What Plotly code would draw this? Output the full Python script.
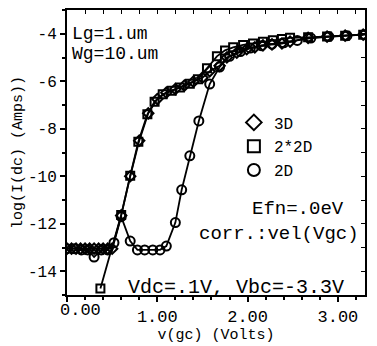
import plotly.graph_objects as go

# ---- data ----
x_3d = [0.00, 0.05, 0.10, 0.15, 0.20, 0.25, 0.30, 0.35, 0.40, 0.45, 0.50, 0.60, 0.70, 0.80, 0.90,
        1.00, 1.10, 1.20, 1.30, 1.40, 1.50, 1.58, 1.69, 1.77, 1.88, 1.99, 2.08, 2.17, 2.27, 2.38,
        2.47, 2.67, 2.88, 3.08, 3.28]
y_3d = [-13.05, -13.05, -13.05, -13.05, -13.05, -13.05, -13.05, -13.05, -13.05, -13.05, -13.05,
        -11.65, -10.00, -8.50, -7.35, -6.75, -6.48, -6.33, -6.18, -6.02, -5.85, -5.58, -5.35,
        -5.00, -4.80, -4.65, -4.57, -4.49, -4.45, -4.41, -4.33, -4.17, -4.12, -4.08, -4.04]

x_22d = [0.37, 0.60, 0.70, 0.79, 0.89, 0.97, 1.06, 1.16, 1.25, 1.36, 1.45, 1.55, 1.66, 1.75,
         1.84, 1.95, 2.06, 2.17, 2.28, 2.38, 2.47, 2.67, 2.88, 3.08, 3.28]
y_22d = [-14.73, -11.63, -9.98, -8.55, -7.39, -6.86, -6.55, -6.40, -6.26, -6.10, -5.92, -5.45,
         -4.95, -4.70, -4.57, -4.47, -4.41, -4.34, -4.27, -4.22, -4.17, -4.15, -4.12, -4.08, -4.04]

x_2d = [0.00, 0.08, 0.16, 0.23, 0.30, 0.38, 0.45, 0.52, 0.60, 0.70, 0.78, 0.86, 0.95, 1.03,
        1.10, 1.20, 1.27, 1.36, 1.46, 1.58, 1.69, 1.80, 1.92, 2.03, 2.15, 2.27, 2.40, 2.55,
        2.70, 2.90, 3.10, 3.30]
y_2d = [-13.05, -13.05, -13.10, -13.10, -13.40, -13.10, -13.10, -12.80, -11.70, -12.73, -13.10,
        -13.10, -13.10, -13.10, -12.94, -11.95, -10.57, -9.14, -7.67, -6.12, -5.40, -4.95,
        -4.75, -4.60, -4.50, -4.44, -4.38, -4.28, -4.18, -4.12, -4.08, -4.04]

legend_names = ["3D", "2*2D", "2D"]
y_tickvals = [-4, -6, -8, -10, -12, -14]
y_ticktext = ["-4", "-6", "-8", "-10", "-12", "-14"]
x_tickvals = [0, 1, 2, 3]
x_ticktext = ["", "1.00", "2.00", "3.00"]
x_first_label = "0.00"

FONT = "Liberation Mono"
BLACK = "#000000"

fig = go.Figure()
series = [
    (x_3d, y_3d, "diamond-open", 8),
    (x_22d, y_22d, "square-open", 8),
    (x_2d, y_2d, "circle-open", 9),
]
for (xs, ys, sym, sz), name in zip(series, legend_names):
    fig.add_trace(go.Scatter(
        x=xs, y=ys, mode="lines+markers", showlegend=False, cliponaxis=True,
        line=dict(color=BLACK, width=1.8),
        marker=dict(symbol=sym, size=sz, color=BLACK, line=dict(width=2, color=BLACK)),
    ))
# legend entries (markers only)
for (xs, ys, sym, sz), name in zip(series, legend_names):
    fig.add_trace(go.Scatter(
        x=[None], y=[None], mode="markers", name=name,
        marker=dict(symbol=sym, size=11, color=BLACK, line=dict(width=2.2, color=BLACK)),
    ))
# invisible trace on overlay axes for inside ticks on top/right
fig.add_trace(go.Scatter(x=[None], y=[None], xaxis="x2", yaxis="y2", showlegend=False))

fig.update_layout(
    width=377, height=346,
    margin=dict(l=67, r=12, t=8, b=44),
    paper_bgcolor="white", plot_bgcolor="white",
    font=dict(family=FONT, color=BLACK, size=13),
    showlegend=True,
    legend=dict(x=0.56, y=0.665, xanchor="left", yanchor="top",
                bgcolor="rgba(0,0,0,0)", borderwidth=0,
                font=dict(family=FONT, size=16, color=BLACK),
                itemsizing="constant", tracegroupgap=0, itemwidth=30),
    xaxis=dict(range=[0, 3.3], tickvals=x_tickvals, ticktext=x_ticktext,
               ticks="outside", ticklen=5, tickwidth=1.5, tickcolor=BLACK,
               minor=dict(dtick=0.2, tick0=0, ticks="outside", ticklen=3, tickcolor=BLACK),
               showline=True, linecolor=BLACK, linewidth=2, mirror=True,
               showgrid=False, zeroline=False,
               tickfont=dict(family=FONT, size=17),
               title=dict(text="v(gc) (Volts)", font=dict(family=FONT, size=15), standoff=0)),
    yaxis=dict(range=[-15, -3], tickvals=y_tickvals, ticktext=y_ticktext,
               ticks="outside", ticklen=5, tickwidth=1.5, tickcolor=BLACK,
               minor=dict(dtick=1, tick0=0, ticks="outside", ticklen=3, tickcolor=BLACK),
               showline=True, linecolor=BLACK, linewidth=2, mirror=True,
               showgrid=False, zeroline=False,
               tickfont=dict(family=FONT, size=16),
               title=dict(text="log(I(dc) (Amps))", font=dict(family=FONT, size=15), standoff=2)),
    xaxis2=dict(overlaying="x", side="top", range=[0, 3.3], dtick=0.2, tick0=0,
                ticks="inside", ticklen=4, tickcolor=BLACK, showticklabels=False,
                showgrid=False, zeroline=False, showline=False),
    yaxis2=dict(overlaying="y", side="right", range=[-15, -3], dtick=1, tick0=0,
                ticks="inside", ticklen=4, tickcolor=BLACK, showticklabels=False,
                showgrid=False, zeroline=False, showline=False, anchor="x"),
)

ann_font = dict(family=FONT, size=19, color=BLACK)
top_font = dict(family=FONT, size=18, color=BLACK)
fig.add_annotation(xref="x", yref="paper", x=x_tickvals[0], y=0, xanchor="left", yanchor="top",
                   yshift=-4, xshift=-9, text=x_first_label, showarrow=False,
                   font=dict(family=FONT, size=17, color=BLACK))
fig.add_annotation(xref="paper", yref="paper", x=0.015, y=0.915, xanchor="left", yanchor="middle",
                   text="Lg=1.um", showarrow=False, font=top_font, borderpad=0)
fig.add_annotation(xref="paper", yref="paper", x=0.015, y=0.845, xanchor="left", yanchor="middle",
                   text="Wg=10.um", showarrow=False, font=top_font, borderpad=0)
fig.add_annotation(xref="paper", yref="paper", x=0.935, y=0.303, xanchor="right", yanchor="middle",
                   text="Efn=.0eV", showarrow=False, font=ann_font)
fig.add_annotation(xref="paper", yref="paper", x=0.985, y=0.214, xanchor="right", yanchor="middle",
                   text="corr.:vel(Vgc)", showarrow=False, font=ann_font)
fig.add_annotation(xref="paper", yref="paper", x=0.935, y=0.025, xanchor="right", yanchor="middle",
                   text="Vdc=.1V, Vbc=-3.3V", showarrow=False,
                   font=dict(family=FONT, size=20, color=BLACK))

fig.write_html("out.html")
